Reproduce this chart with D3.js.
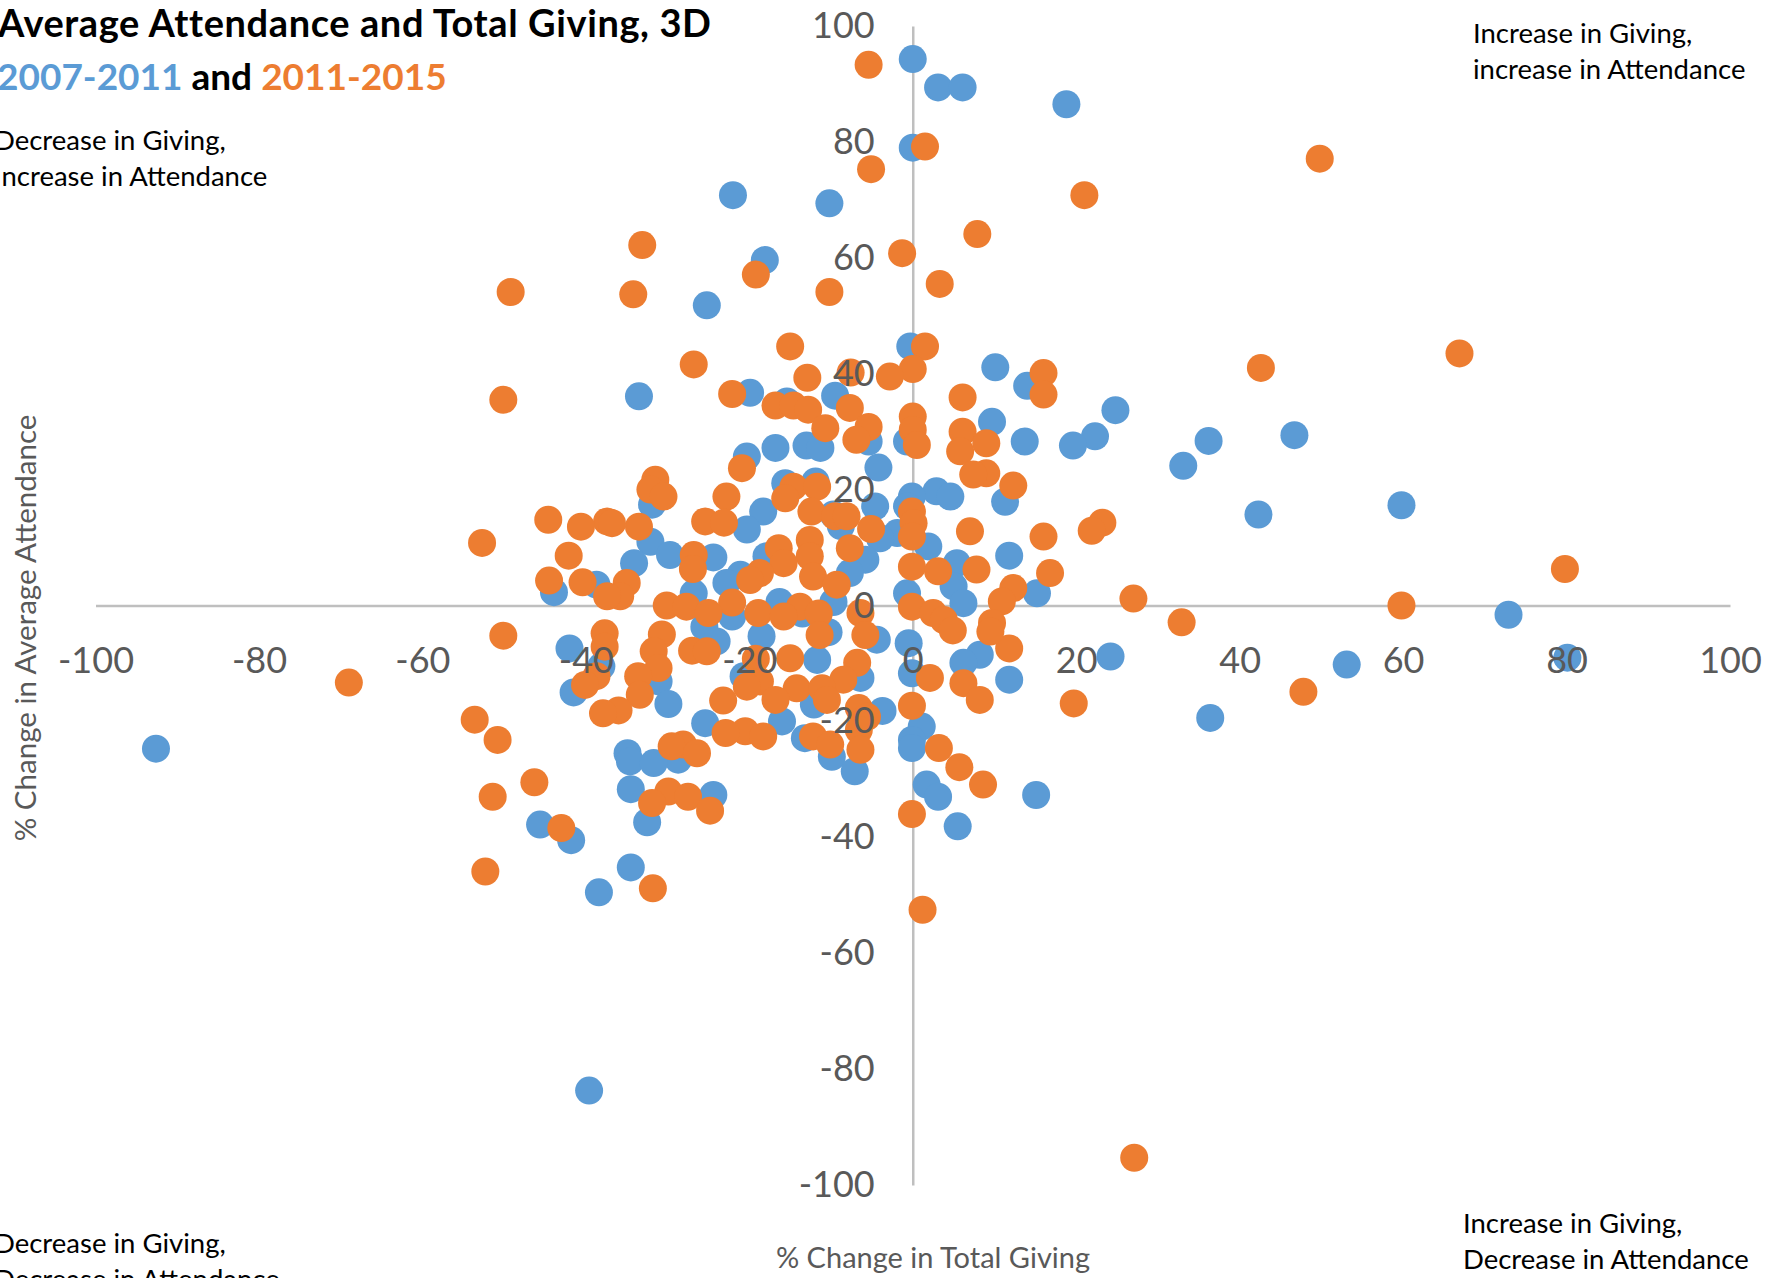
<!DOCTYPE html>
<html>
<head>
<meta charset="utf-8">
<script src="https://cdn.jsdelivr.net/npm/d3@7"></script>
<style>
  body { margin: 0; background: #fff; }
  svg { display: block; font-family: Lato, "Liberation Sans", sans-serif; }
</style>
</head>
<body>
<svg id="chart"></svg>
<script>
// % change in total giving (x) and % change in average attendance (y)
var period1 = [
  [0,94.3],[3.1,89.4],[6.1,89.4],[18.8,86.5],[0,79],[-22,70.8],[-10.2,69.4],[-18.1,59.6],[-25.2,51.8],
  [-0.3,44.7],[10.1,41.1],[14,37.9],[-33.5,36.1],[-19.9,36.7],[-15.4,35.2],[-9.5,36.2],[24.8,33.7],[9.7,31.7],
  [46.7,29.4],[36.2,28.4],[22.3,29.2],[19.6,27.6],[13.7,28.3],[-0.7,28.3],[-5.4,28.3],[-13,27.6],[-11.3,27.2],
  [-16.8,27.2],[-20.3,25.7],[33.1,24.1],[-4.2,23.8],[-15.6,21.1],[-11.9,21.4],[2.9,19.7],[4.6,18.8],[-0.1,18.8],
  [11.3,17.9],[59.8,17.3],[-31.9,17.4],[-4.6,17.1],[-0.7,17.1],[-18.3,16.2],[-9.7,15.7],[42.3,15.7],
  [-20.3,13.1],[-8.8,13.7],[-1.9,12.5],[-4,11.6],[-32.1,11],[1.9,10.2],[-29.7,8.7],[11.8,8.6],[-24.4,8.3],
  [-17.9,8.5],[-5.8,7.9],[-34.1,7.3],[5.4,7.3],[-21.1,5.3],[-7.7,5.6],[-22.8,3.9],[-38.7,3.6],[5,3.3],
  [-26.8,2.1],[-43.9,2.3],[15.2,2.1],[-0.7,2.1],[6.2,0.4],[-16.3,0.6],[-9.7,0.6],[-13.5,-1.4],[-22.1,-1.9],
  [72.9,-1.6],[-25.5,-3.7],[-10.3,-4.6],[-18.5,-5.3],[-4.4,-5.9],[-24,-6.2],[-0.5,-6.5],[-42,-7.4],[8.2,-8.5],
  [24.2,-8.8],[80.1,-9],[-11.7,-9.4],[6.2,-9.9],[53.1,-10.2],[-38.1,-10.5],[-0.1,-11.7],[-20.7,-12.2],
  [-6.4,-12.5],[11.8,-12.8],[-31.1,-13.1],[-41.5,-15],[-29.9,-17],[-12.1,-17.1],[-3.7,-18.2],[36.4,-19.4],
  [-16,-20],[-25.4,-20.3],[1.1,-20.9],[-13.2,-22.9],[-0.1,-23.2],[-0.1,-24.6],[-92.6,-24.7],[-34.9,-25.5],
  [-9.9,-26.1],[-28.7,-26.6],[-34.6,-26.9],[-31.7,-27.2],[-7.1,-28.6],[1.7,-30.9],[-34.5,-31.7],[3.1,-33],
  [-24.4,-32.7],[15.1,-32.7],[-32.5,-37.4],[-45.6,-37.8],[5.5,-38.1],[-41.8,-40.5],[-34.5,-45.2],
  [-38.4,-49.5],[-39.6,-83.7]
];

var period2 = [
  [-5.4,93.3],[49.8,77.1],[1.5,79.2],[-5.1,75.3],[21,70.8],[7.9,64.1],[-33.1,62.2],[-1.3,60.8],[-19.2,57.1],
  [3.3,55.5],[-49.2,54.1],[-34.2,53.7],[-10.2,54.1],[66.9,43.5],[-15,44.7],[1.5,44.7],[-26.8,41.6],[42.6,41],
  [0,40.8],[-7.6,40.2],[16,40.1],[-2.8,39.5],[-12.9,39.3],[-22.1,36.5],[16,36.4],[6.1,35.9],[-50.1,35.5],
  [-16.8,34.5],[-14.6,34.5],[-7.7,34.1],[-12.8,33.8],[0,32.6],[-5.4,30.8],[-10.7,30.6],[0,30.3],[6.1,30],
  [-6.9,28.6],[9,28],[0.5,27.7],[5.8,26.6],[-20.9,23.7],[9,22.8],[7.4,22.6],[-31.5,21.7],[12.3,20.7],
  [-14.6,20.5],[-11.7,20.5],[-32.1,20],[-30.5,18.8],[-22.8,18.8],[-15.6,18.5],[-12.4,16.2],[-0.1,16.2],
  [-9.5,15.4],[-8.1,15.4],[-44.6,14.8],[-37.4,14.5],[-36.8,14.2],[-25.4,14.5],[-23.1,14.3],[23.2,14.3],
  [0.1,14.2],[-40.6,13.6],[-33.5,13.6],[-5.1,13.2],[21.9,12.9],[7,12.8],[-0.1,11.9],[16,11.9],[-12.6,11.3],
  [-52.7,10.8],[-7.7,9.9],[-16.4,9.9],[-42.1,8.6],[-26.8,8.7],[-12.6,8.5],[-15.8,7.3],[-0.1,6.7],[79.8,6.3],
  [-26.9,6.3],[7.8,6.2],[3.1,5.9],[-18.7,5.6],[16.8,5.6],[-12.2,5],[-19.9,4.4],[-44.5,4.3],[-40.4,4],
  [-35,3.9],[-9.3,3.6],[12.3,3],[-35.8,1.6],[-37.4,1.6],[27,1.2],[10.9,0.7],[-22.1,0.5],[-30.1,0],[59.8,0],
  [-27.7,-0.2],[-0.1,-0.2],[-13.8,-0.2],[-25,-1.3],[-18.9,-1.3],[-6.4,-1.3],[2.5,-1.3],[-11.5,-1.4],
  [-15.8,-1.9],[3.8,-2.5],[32.9,-2.9],[9.7,-3],[4.9,-4.3],[-50.1,-5.2],[-37.7,-4.8],[-30.7,-5],[-11.4,-5.1],
  [-5.8,-5.1],[-37.7,-7.1],[-27,-7.8],[-25.2,-7.9],[-31.7,-7.9],[11.8,-7.4],[9.5,-4.5],[-15,-9.1],
  [-19.2,-9.2],[-6.8,-9.9],[-31.1,-10.8],[-38.7,-12.2],[-33.6,-12.2],[2.1,-12.5],[-8.5,-12.8],[-18.7,-13.1],
  [-69,-13.3],[6.2,-13.4],[-40.1,-13.7],[-20.3,-14],[-14.2,-14.3],[-11.1,-14.3],[47.8,-14.9],[-33.4,-15.4],
  [-23.2,-16.4],[8.2,-16.3],[-16.8,-16.3],[-10.5,-16.3],[19.7,-16.9],[-0.1,-17.3],[-6.6,-17.7],[-36,-18.1],
  [-37.9,-18.6],[-5.6,-19.2],[-53.6,-19.7],[-20.5,-21.7],[-22.9,-22],[-18.3,-22.6],[-12.2,-22.6],
  [-6.6,-21.5],[-10.1,-24],[-50.8,-23.2],[-28.1,-24],[-29.5,-24.3],[3.2,-24.6],[-6.4,-24.9],[-26.4,-25.5],
  [5.7,-27.9],[-46.3,-30.5],[8.6,-30.9],[-29.9,-32.1],[-51.4,-33],[-27.5,-33],[-31.9,-34.1],[-24.8,-35.4],
  [-0.1,-36],[-43,-38.4],[-52.3,-45.9],[-31.8,-48.8],[1.2,-52.5],[27.1,-95.3]
];

var xTicks = [-100, -80, -60, -40, -20, 0, 20, 40, 60, 80, 100];
var yTicks = [-100, -80, -60, -40, -20, 0, 20, 40, 60, 80, 100];

var seriesNames = ["2007-2011", "2011-2015"];
var seriesColors = ["#5B9BD5", "#ED7D31"];

var quadrantLabels = [
  ["Decrease in Giving,", "Increase in Attendance"],
  ["Increase in Giving,", "increase in Attendance"],
  ["Decrease in Giving,", "Decrease in Attendance"],
  ["Increase in Giving,", "Decrease in Attendance"]
];

var W = 1782, H = 1278;
var svg = d3.select("#chart").attr("width", W).attr("height", H);

var x = d3.scaleLinear().domain([-100, 100]).range([95.5, 1730]);
var y = d3.scaleLinear().domain([-100, 100]).range([1185, 26]);

var grey = "#595959";
var plainNum = d => String(d);   // hyphen minus like the original, not U+2212

// axis lines (under the dots)
var xAxis = d3.axisBottom(x).tickValues(xTicks).tickFormat(plainNum).tickSize(0).tickPadding(42);
var yAxis = d3.axisLeft(y).tickValues(yTicks).tickFormat(plainNum).tickSize(0).tickPadding(38);

var lines = svg.append("g");
lines.append("g").attr("transform", "translate(0," + y(0) + ")").call(xAxis)
  .call(g => g.selectAll(".tick").remove());
lines.append("g").attr("transform", "translate(" + x(0) + ",0)").call(yAxis)
  .call(g => g.selectAll(".tick").remove());
lines.selectAll(".domain").attr("stroke", "#BFBFBF").attr("stroke-width", 2.5);

// dots
[period1, period2].forEach(function(s, i) {
  svg.append("g").selectAll("circle").data(s).enter().append("circle")
    .attr("cx", d => x(d[0]))
    .attr("cy", d => y(d[1]))
    .attr("r", 14)
    .attr("fill", seriesColors[i]);
});

// tick labels (drawn over the dots)
var lab = svg.append("g");
lab.append("g").attr("transform", "translate(0," + y(0) + ")").call(xAxis)
  .call(g => g.select(".domain").remove());
lab.append("g").attr("transform", "translate(" + x(0) + ",0)").call(yAxis)
  .call(g => g.select(".domain").remove());
lab.selectAll("text").attr("fill", grey).style("font-size", "36px")
  .style("font-family", "Lato, 'Liberation Sans', sans-serif");

// axis titles
svg.append("text").attr("x", 933).attr("y", 1268).attr("text-anchor", "middle")
  .attr("fill", grey).style("font-size", "29px").text("% Change in Total Giving");
svg.append("text").attr("transform", "translate(36,628) rotate(-90)").attr("text-anchor", "middle")
  .attr("fill", grey).style("font-size", "29.5px").text("% Change in Average Attendance");

// title
svg.append("text").attr("x", -2).attr("y", 37).style("font-size", "38px").style("font-weight", "bold")
  .style("letter-spacing", "0.6px").attr("fill", "#000").text("Average Attendance and Total Giving, 3D");
var sub = svg.append("text").attr("x", -3).attr("y", 90).style("font-size", "37px").style("font-weight", "bold");
sub.append("tspan").attr("fill", seriesColors[0]).text(seriesNames[0]);
sub.append("tspan").attr("fill", "#000").text(" and ");
sub.append("tspan").attr("fill", seriesColors[1]).text(seriesNames[1]);

// quadrant notes
var notePos = [[-6, 150], [1473, 43], [-6, 1253], [1463, 1233]];
quadrantLabels.forEach(function(lines2, i) {
  var t = svg.append("text").attr("x", notePos[i][0]).attr("y", notePos[i][1])
    .style("font-size", "27.5px").attr("fill", "#000");
  lines2.forEach(function(s, j) {
    t.append("tspan").attr("x", notePos[i][0]).attr("dy", j ? 36 : 0).text(s);
  });
});
</script>
</body>
</html>
